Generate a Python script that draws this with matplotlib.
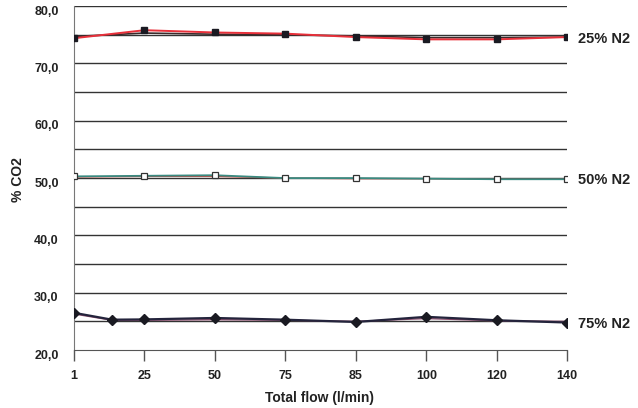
import matplotlib
matplotlib.use("Agg")
import matplotlib.pyplot as plt
from matplotlib.transforms import ScaledTranslation

plt.rcParams['font.family'] = ['Liberation Sans', 'DejaVu Sans']

# categorie dell'asse x (spaziatura uniforme)
flows = ['1', '25', '50', '75', '85', '100', '120', '140']
pos = [0, 1, 2, 3, 4, 5, 6, 7]

# 25% N2
n25_a = [74.4, 75.8, 75.4, 75.2, 74.6, 74.2, 74.2, 74.6]
n25_b = [74.7, 75.3, 75.1, 75.0, 74.8, 74.5, 74.5, 74.6]
# 50% N2
n50_a = [50.3, 50.4, 50.5, 50.0, 50.0, 49.9, 49.8, 49.8]
n50_b = [50.2, 50.3, 50.3, 50.0, 49.9, 49.9, 49.8, 49.8]
# 75% N2 (un punto in piu' tra 1 e 25)
pos75 = [0, 0.54, 1, 2, 3, 4, 5, 6, 7]
n75_a = [26.5, 25.3, 25.35, 25.6, 25.3, 24.9, 25.8, 25.2, 24.8]
n75_b = [26.3, 25.2, 25.2, 25.3, 25.2, 25.0, 25.5, 25.1, 25.0]

labels = ['25% N2', '50% N2', '75% N2']
label_y = [74.2, 49.6, 24.6]

fig = plt.figure(figsize=(6.38, 4.08), dpi=100)
ax = fig.add_axes([0.116, 0.142, 0.773, 0.843])

for v in range(25, 85, 5):
    ax.axhline(v, color='#333333', lw=1.0, zorder=1)

ax.plot(pos, n25_b, color='#3a2a2a', lw=1.2, zorder=3)
ax.plot(pos, n25_a, color='#e8303a', lw=1.4, zorder=4)
ax.plot(pos, n25_a, ls='none', marker='s', ms=5, color='#1a1a22', zorder=5)

ax.plot(pos, n50_b, color='#c0504a', lw=1.0, zorder=3)
ax.plot(pos, n50_a, color='#3a8a80', lw=1.3, zorder=4)
ax.plot(pos, n50_a, ls='none', marker='s', ms=5, mfc='white', mec='#333333', mew=0.9, zorder=5)

ax.plot(pos75, n75_b, color='#8a4a6a', lw=1.0, zorder=3)
ax.plot(pos75, n75_a, color='#24243c', lw=1.6, zorder=4)
ax.plot(pos75, n75_a, ls='none', marker='D', ms=5, color='#1a1a22', zorder=5)

for lab, y in zip(labels, label_y):
    ax.text(7.15, y, lab, fontsize=10.5, fontweight='bold', color='#222222', va='center',
            clip_on=False)

ax.set_xlim(0, 7)
ax.set_ylim(20, 80)
ax.set_xticks(pos)
ax.set_xticklabels(flows, fontsize=9, fontweight='bold', color='#222222')
ax.set_yticks(range(20, 90, 10))
ax.set_yticklabels(['%d,0' % v for v in range(20, 90, 10)], fontsize=9, fontweight='bold',
                   color='#222222')
ax.tick_params(axis='x', length=8, width=1, color='#555555', pad=6)
ax.tick_params(axis='y', length=0, pad=11)
# etichette y leggermente sotto le griglie, come nell'originale
off = ScaledTranslation(0, -4 / 100, fig.dpi_scale_trans)
for t in ax.get_yticklabels():
    t.set_transform(t.get_transform() + off)

for s in ['top', 'right']:
    ax.spines[s].set_visible(False)
ax.spines['left'].set_color('#777777')
ax.spines['bottom'].set_color('#555555')

fig.text(320 / 638, 1 - 398 / 408, 'Total flow (l/min)', fontsize=10, fontweight='bold',
         color='#222222', ha='center', va='center')
fig.text(18 / 638, 1 - 180 / 408, '% CO2', fontsize=10, fontweight='bold', color='#222222',
         ha='center', va='center', rotation=90)

fig.savefig('out.png', dpi=100)
